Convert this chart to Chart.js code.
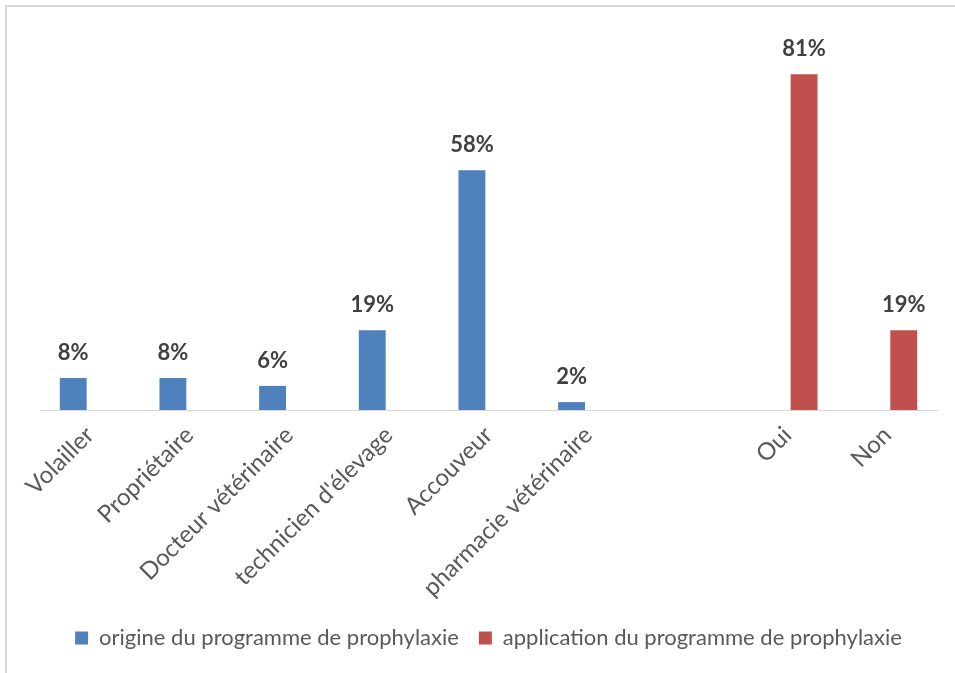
<!DOCTYPE html>
<html>
<head>
<meta charset="utf-8">
<script src="https://cdn.jsdelivr.net/npm/chart.js@4"></script>
<style>
  body { margin: 0; background: #fff; }
  #wrap { position: relative; width: 955px; height: 673px; }
  #frame { position: absolute; left: 5px; top: 5px; right: -10px; bottom: -10px;
           border-top: 2px solid #d9d9d9; border-left: 2px solid #d9d9d9; }
  canvas { position: absolute; left: 0; top: 0; }
</style>
</head>
<body>
<div id="wrap">
  <div id="frame"></div>
  <canvas id="chart" width="955" height="673"></canvas>
</div>
<script>
// Data (share of respondents, %)
const categories = ['Volailler', 'Propriétaire', 'Docteur vétérinaire', "technicien d'élevage",
                    'Accouveur', 'pharmacie vétérinaire', '', 'Oui', 'Non'];
const origineValues = [7.7, 7.7, 5.8, 19.2, 57.7, 1.9, null, null, null];
const applicationValues = [null, null, null, null, null, null, null, 80.8, 19.2];
const seriesNames = ['origine du programme de prophylaxie', 'application du programme de prophylaxie'];

// draws the "xx%" labels above each bar
const barLabels = {
    id: 'barLabels',
    afterDatasetsDraw(chart) {
        const ctx = chart.ctx;
        ctx.save();
        ctx.font = 'bold 22px Lato';
        ctx.fillStyle = '#404040';
        ctx.textAlign = 'center';
        ctx.textBaseline = 'alphabetic';
        chart.data.datasets.forEach((ds, i) => {
            chart.getDatasetMeta(i).data.forEach((bar, j) => {
                const v = ds.data[j];
                if (v === null) return;
                ctx.fillText(Math.round(v) + '%', bar.x, bar.y - 18);
            });
        });
        ctx.restore();
    }
};

new Chart(document.getElementById('chart'), {
    type: 'bar',
    data: {
        labels: categories,
        datasets: [
            { label: seriesNames[0], data: origineValues, backgroundColor: '#4f81bd' },
            { label: seriesNames[1], data: applicationValues, backgroundColor: '#c0504d' }
        ]
    },
    options: {
        responsive: false,
        animation: false,
        categoryPercentage: 0.666,
        barPercentage: 0.81,
        layout: { padding: { left: 40, right: 18, top: 36, bottom: 14 } },
        scales: {
            x: {
                grid: { display: false },
                border: { display: true, color: '#d9d9d9', width: 1 },
                ticks: {
                    color: '#595959',
                    font: { family: 'Lato', size: 24 },
                    minRotation: 45, maxRotation: 45,
                    autoSkip: false
                },
                afterFit(scale) { scale.height = 197; }
            },
            y: { display: false, min: 0, max: 90 }
        },
        plugins: {
            legend: {
                position: 'bottom',
                labels: {
                    color: '#595959',
                    font: { family: 'Lato', size: 22 },
                    boxWidth: 13, boxHeight: 13,
                    padding: 20
                }
            },
            tooltip: { enabled: false }
        }
    },
    plugins: [barLabels]
});
</script>
</body>
</html>
